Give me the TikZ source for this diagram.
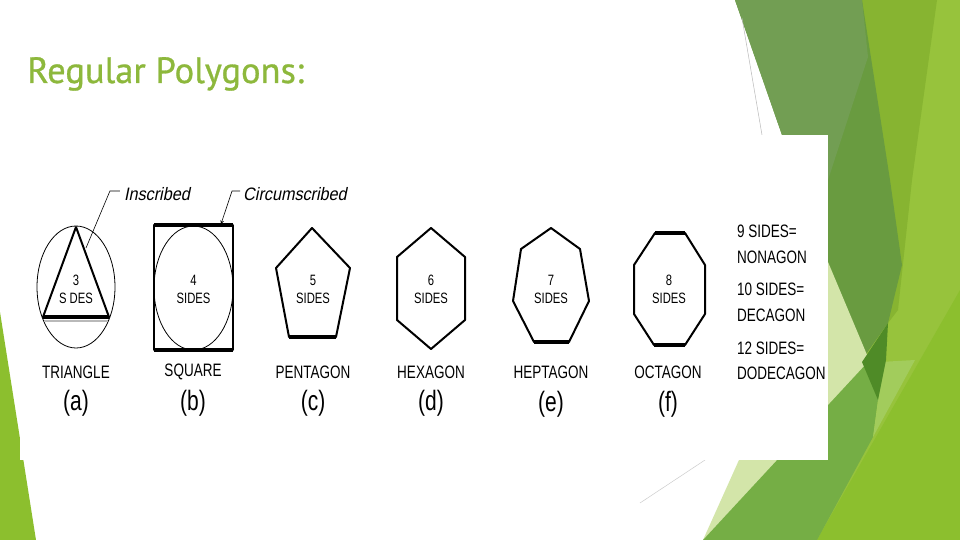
\documentclass[tikz,border=0pt]{standalone}
\usepackage{fontspec}
\setmainfont{Liberation Sans}
\newfontfamily\titlefont[FakeBold=0.8]{PT Sans}
\newfontfamily\cadfont[FakeStretch=0.75]{Liberation Sans}
\newfontfamily\cadslant[FakeStretch=0.9,FakeSlant=0.2]{Liberation Sans}
\usepackage{tikz}
\usetikzlibrary{arrows,positioning,calc}
\definecolor{titlegreen}{HTML}{8DB83C}
\definecolor{mossgreen}{HTML}{729E53}
\definecolor{darkgreen}{HTML}{699B40}
\definecolor{yellowgreen}{HTML}{87B431}
\definecolor{lightgreen}{HTML}{97C33C}
\definecolor{brightgreen}{HTML}{8CBF2E}
\definecolor{palegreen}{HTML}{D3E5A9}
\definecolor{midgreen}{HTML}{75AE45}
\definecolor{softgreen}{HTML}{A2CC5C}
\definecolor{forestgreen}{HTML}{4F8B27}

\begin{document}
\begin{tikzpicture}[x=1pt,y=-1pt,% one unit is one pixel of the slide, y runs down
					every node/.style={
						align=center,	% so that "\\" breaks the line
						inner sep=0pt
						},
					outline/.style={draw=black,line width=2pt,line join=round},
					heavy/.style={draw=black,line width=3.2pt},
					hoop/.style={draw=black,line width=0.8pt},
					sides/.style={font=\cadfont\fontsize{15}{18}\selectfont},
					polyname/.style={font=\cadfont\fontsize{18}{20}\selectfont},
					letter/.style={font=\cadfont\fontsize{28}{30}\selectfont},
					tag/.style={font=\cadslant\fontsize{18}{20}\selectfont},
					leader/.style={draw=black,line width=0.6pt,-stealth}
					]
\useasboundingbox (0,0) rectangle (960,540);
\fill[white] (0,0) rectangle (960,540);
% green facets of the slide
\fill[lightgreen] (850,0) -- (960,0) -- (960,540) -- (817,540) -- cycle;
\fill[brightgreen] (817,540) -- (960,290) -- (960,540) -- cycle;
\fill[yellowgreen] (860,0) -- (937,0) -- (912,180) -- (898,310) -- (888,323) -- cycle;
\fill[darkgreen] (735,0) -- (862,0) -- (890,180) -- (902,265) -- (888,323) -- (862,360) -- (828,263) -- (782,135) -- cycle;
\fill[mossgreen] (735,0) -- (862,0) -- (868,57) -- (828,180) -- (782,135) -- cycle;
\fill[palegreen] (703,540) -- (828,262) -- (870,362) -- cycle;
\fill[midgreen] (703,540) -- (868,362) -- (878,400) -- (873,437) -- (817,540) -- cycle;
\fill[softgreen] (880,362) -- (915,360) -- (873,437) -- (878,400) -- cycle;
\fill[forestgreen] (888,323) -- (862,362) -- (878,400) -- (886,360) -- cycle;
\fill[brightgreen] (0,312) -- (36,540) -- (0,540) -- cycle;
\draw[gray!55,line width=0.5pt] (742,18) -- (762,135);
\draw[gray!40,line width=0.5pt] (640,503) -- (705,460);
% the picture
\fill[white] (20,135) rectangle (828,460);
\node[anchor=base west,text=titlegreen,font=\titlefont\fontsize{36.5}{40}\selectfont] (title) at (27,83) {Regular Polygons:};

% (a) triangle in its circle
\draw[hoop] (76,287) ellipse [x radius=39,y radius=61];
\draw[outline] (76,227) -- (43,317) -- (109,317) -- cycle;
\draw[gray!55,line width=1.5pt] (44,321) -- (108,321);
\draw[heavy] (43,317) -- (109,317);
\node[sides] (n3) at (76,289) {3\\S DES};
% (b) square round its circle
\draw[hoop] (193.5,288) ellipse [x radius=39.5,y radius=62];
\draw[outline] (154,225) rectangle (233,350);
\draw[heavy] (154,225) -- (233,225);
\draw[heavy] (154,350) -- (233,350);
\node[sides] (n4) at (193.5,289) {4\\SIDES};
% (c) to (f)
\draw[outline] (312,228) -- (350,268) -- (336,337) -- (289,337) -- (276,268) -- cycle;
\draw[heavy] (336,337) -- (289,337);
\node[sides] (n5) at (313,289) {5\\SIDES};
\draw[outline] (431,228) -- (465,257) -- (465,320) -- (431,349) -- (397,320) -- (397,257) -- cycle;
\node[sides] (n6) at (431,289) {6\\SIDES};
\draw[outline] (551,228) -- (580,249) -- (589,301) -- (569,342) -- (534,342) -- (513,301) -- (521,249) -- cycle;
\draw[heavy] (569,342) -- (534,342);
\node[sides] (n7) at (551,289) {7\\SIDES};
\draw[outline] (655,233) -- (685,233) -- (705,265) -- (705,314) -- (685,345) -- (654,345) -- (634,314) -- (634,265) -- cycle;
\draw[heavy] (655,233) -- (685,233);
\draw[heavy] (685,345) -- (654,345);
\node[sides] (n8) at (669,289) {8\\SIDES};

% names under the shapes
\node[polyname] (triangle) at (76,372) {TRIANGLE};
\node[polyname] (square) at (193,372) {SQUARE};
\node[polyname] (pentagon) at (313,372) {PENTAGON};
\node[polyname] (hexagon) at (431,372) {HEXAGON};
\node[polyname] (heptagon) at (551,372) {HEPTAGON};
\node[polyname] (octagon) at (668,372) {OCTAGON};
\node[letter] (a) at (76,403) {(a)};
\node[letter] (b) at (193,403) {(b)};
\node[letter] (c) at (313,403) {(c)};
\node[letter] (d) at (431,403) {(d)};
\node[letter] (e) at (551,404) {(e)};
\node[letter] (f) at (668,404) {(f)};

% more sides
\node[polyname,anchor=west] (nine) at (737,231) {9 SIDES=};
\node[polyname,anchor=west] (nonagon) at (737,257) {NONAGON};
\node[polyname,anchor=west] (ten) at (737,289) {10 SIDES=};
\node[polyname,anchor=west] (decagon) at (737,315) {DECAGON};
\node[polyname,anchor=west] (twelve) at (737,348) {12 SIDES=};
\node[polyname,anchor=west] (dodecagon) at (737,373) {DODECAGON};

% leaders
\node[tag] (inscribed) at (157,194) {Inscribed};
\node[tag] (circumscribed) at (295,194) {Circumscribed};
\coordinate (tipA) at (86,248);
\coordinate (tipB) at (221,224);
\path[leader]
([shift={(-4,-3)}]inscribed.west) -- ++(-10,0) -- (tipA)
([shift={(-3,-3)}]circumscribed.west) -- ++(-8,0) -- (tipB)
;
\end{tikzpicture}
\end{document}
